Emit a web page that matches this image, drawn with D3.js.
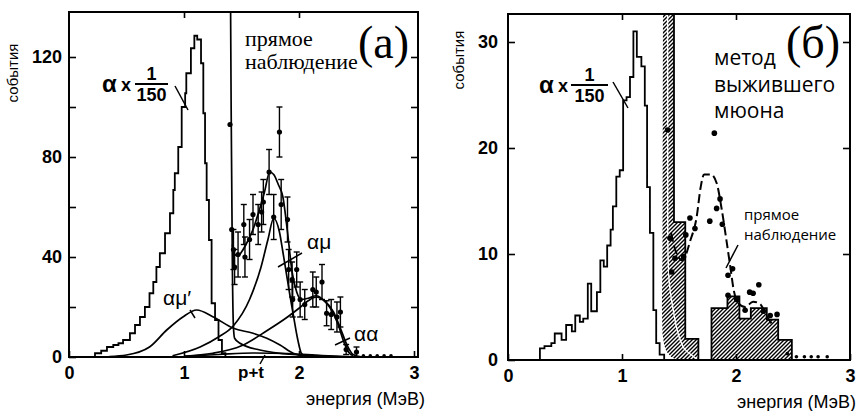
<!DOCTYPE html>
<html>
<head>
<meta charset="utf-8">
<script src="https://cdn.jsdelivr.net/npm/d3@7"></script>
<style>
  body { margin: 0; background: #fff; }
  svg { display: block; }
</style>
</head>
<body>
<svg width="862" height="411"></svg>
<script>
// ---------- panel (а): direct observation ----------
// alpha spectrum (x 1/150), bin edges and counts
const alphaA_edges = [0.226, 0.28, 0.33, 0.385, 0.43, 0.47, 0.53, 0.574, 0.617, 0.66, 0.70, 0.733, 0.76, 0.79, 0.835, 0.878, 0.907, 0.92, 0.95, 0.98, 1.01, 1.02, 1.06, 1.09, 1.115, 1.148, 1.168, 1.183, 1.197, 1.217, 1.24, 1.27, 1.30, 1.33, 1.36];
const alphaA_counts = [1.5, 2.5, 4, 4.8, 5.5, 6.8, 9.5, 12.8, 16, 20, 25.5, 30, 36, 41.5, 49.5, 57.5, 66.8, 73.5, 84, 100, 105.5, 113.5, 123.5, 128.5, 127, 117.5, 97.5, 77.5, 62.8, 46.8, 21.5, 14.8, 6.8, 1.5];

// fitted components
const steepA_x = [1.405, 1.41, 1.415, 1.42, 1.43, 1.44, 1.487, 1.66, 2.0, 2.3];
const steepA_y = [140, 100, 70, 40, 12, 7.5, 5.5, 2.8, 0.8, 0.2];
const amuPrimeA_x = [0.35, 0.5, 0.7, 0.85, 0.99, 1.11, 1.255, 1.43, 1.6, 1.72, 1.835, 1.95, 2.05, 2.2];
const amuPrimeA_y = [0.2, 0.8, 4, 10.8, 16, 18.8, 16, 11.5, 9.5, 7.5, 4.8, 1.5, 0.4, 0];
const amuA_x = [0.9, 1.14, 1.3, 1.43, 1.57, 1.67, 1.73, 1.78, 1.83, 1.86, 1.89, 1.92, 1.95, 1.99, 2.02, 2.06];
const amuA_y = [0.5, 4, 8, 12.5, 23, 36, 47, 55.5, 50, 42, 33.5, 25, 17, 6.8, 1.5, 0];
const aaA_x = [1.0, 1.25, 1.5, 1.72, 1.9, 2.0, 2.08, 2.15, 2.22, 2.3, 2.36, 2.42, 2.47, 2.55];
const aaA_y = [0.3, 1.5, 4.5, 10.5, 16, 19.5, 22.5, 24, 22.5, 18, 11.5, 4.5, 1, 0];
const ptA_x = [1.0, 1.3, 1.6, 1.9, 2.2, 2.5];
const ptA_y = [0.3, 1, 1.6, 1.4, 0.6, 0.1];
const totalA_x = [1.42, 1.44, 1.47, 1.5, 1.55, 1.6, 1.65, 1.7, 1.745, 1.78, 1.82, 1.86, 1.9, 1.94, 1.98, 2.02, 2.08, 2.15, 2.22, 2.28, 2.34, 2.39, 2.43, 2.47];
const totalA_y = [45, 41, 40.5, 42, 46, 51, 58, 66, 74, 73, 69, 64, 50, 34, 26, 23, 23.5, 24.5, 22.5, 19, 13, 6, 2, 0.5];

// measured points with errors
const pointsA_x = [1.40, 1.415, 1.43, 1.44, 1.47, 1.52, 1.53, 1.57, 1.60, 1.645, 1.675, 1.69, 1.74, 1.78, 1.83, 1.845, 1.90, 1.91, 1.94, 1.945, 1.98, 2.01, 2.05, 2.12, 2.15, 2.20, 2.24, 2.28, 2.33, 2.36, 2.41, 2.50, 2.56, 2.62, 2.68, 2.74, 2.80];
const pointsA_y = [93, 51, 43, 36, 41, 53, 40, 47, 57, 53, 58, 62, 74, 56, 90, 61, 55, 35, 31, 23, 35, 23, 21, 27, 26, 30, 17.5, 17, 16, 18, 3, 2, 0.5, 0.5, 0.5, 0.5, 0.5];
const pointsA_err = [0, 0, 8, 7, 9, 8, 8, 8, 8, 8, 8, 9, 9, 9, 10, 10, 9, 8, 7, 7, 7, 7, 6, 7, 6, 7, 5, 6, 6, 6, 2, 2, 0, 0, 0, 0, 0];

// ---------- panel (б): surviving muon method ----------
const alphaB_edges = [0.28, 0.32, 0.38, 0.41, 0.47, 0.51, 0.56, 0.59, 0.63, 0.66, 0.70, 0.73, 0.78, 0.81, 0.84, 0.87, 0.90, 0.92, 0.95, 0.98, 1.01, 1.04, 1.07, 1.10, 1.13, 1.17, 1.20, 1.22, 1.245, 1.275, 1.30, 1.33, 1.37];
const alphaB_counts = [1.1, 1.3, 1.6, 2.5, 1.9, 3.3, 2.7, 4.2, 3.6, 3.9, 7.2, 4.6, 6.4, 9.4, 8.8, 10.8, 12.3, 14.5, 17.3, 17.9, 24.5, 24.8, 26.7, 31, 28.6, 27.7, 24, 16.3, 12, 4.7, 1.6, 0.5];

// hatched histogram (surviving muon) and the left edge of its tall band
const hatchB_edges = [1.456, 1.555, 1.67, 1.785, 1.925, 2.03, 2.13, 2.27, 2.37, 2.49];
const hatchB_counts = [13, 2, 0, 4.9, 6, 3.9, 4.9, 3.8, 1.9];
const bandB_x = [1.36, 1.355, 1.35, 1.355, 1.37, 1.39, 1.43, 1.48];
const bandB_y = [36, 10, 5, 2.5, 1.4, 0.8, 0.3, 0];
const innerB_x = [1.40, 1.401, 1.41, 1.445, 1.535, 1.67];
const innerB_y = [36, 12, 8, 5, 1.25, 0];

// direct observation, dashed
const directB_x = [1.43, 1.47, 1.53, 1.60, 1.655, 1.69, 1.72, 1.78, 1.83, 1.875, 1.92, 1.95, 1.98, 2.02, 2.08, 2.15, 2.21, 2.27, 2.33];
const directB_y = [12, 10.3, 9.4, 11.3, 13.5, 16.3, 17.5, 17.5, 16.7, 14.2, 11, 8.8, 6.6, 5.35, 5.0, 5.5, 5.3, 4.1, 3.2];
const dotsB_x = [1.40, 1.42, 1.436, 1.465, 1.54, 1.56, 1.596, 1.64, 1.77, 1.81, 1.83, 1.86, 1.88, 1.93, 1.93, 1.97, 2.006, 2.08, 2.12, 2.15, 2.20, 2.24, 2.30, 2.36, 2.45, 2.53, 2.60, 2.66, 2.72, 2.80];
const dotsB_y = [21.7, 11.5, 8.3, 9.6, 9.75, 11.8, 13.4, 12.4, 13.1, 21.4, 14.3, 15.2, 12.8, 8.0, 6.1, 8.6, 5.7, 4.7, 6.4, 6.3, 7.1, 4.6, 4.2, 4.3, 0.6, 0.3, 0.3, 0.3, 0.3, 0.3];

const xTickValues = [0, 1, 2, 3];
const yTicksA = [0, 20, 40, 60, 80, 100, 120];
const yTicksB = [0, 10, 20, 30];

// ---------------------------------------------------------
const svg = d3.select("svg");
const defs = svg.append("defs");

defs.append("pattern")
  .attr("id", "hatch")
  .attr("patternUnits", "userSpaceOnUse")
  .attr("width", 4)
  .attr("height", 4)
  .append("path")
  .attr("d", "M-1,1 l2,-2 M0,4 l4,-4 M3,5 l2,-2")
  .attr("stroke", "#000")
  .attr("stroke-width", 1.4);

const SANS = "'Liberation Sans', Arial, sans-serif";
const SERIF = "'Liberation Serif', 'Times New Roman', serif";

const zip = (xs, ys) => xs.map((v, i) => [v, ys[i]]);

function histPoints(edges, counts) {
  const pts = [[edges[0], 0]];
  counts.forEach((c, i) => pts.push([edges[i], c]));
  pts.push([edges[edges.length - 1], 0]);
  return pts;
}

function makePanel(p) {
  const x = d3.scaleLinear([0, p.xMax], [p.left, p.right]);
  const y = d3.scaleLinear([0, p.yMax], [p.bottom, p.top]);
  const g = svg.append("g");

  defs.append("clipPath").attr("id", p.id)
    .append("rect")
    .attr("x", p.left).attr("y", p.top)
    .attr("width", p.right - p.left).attr("height", p.bottom - p.top);

  const plot = g.append("g").attr("clip-path", `url(#${p.id})`);

  // axes with inward ticks
  const styleAxis = (sel) => {
    sel.attr("font-family", SANS).attr("font-size", 18).attr("font-weight", "bold");
    sel.select(".domain").remove();
    sel.selectAll("line").attr("stroke", "#000").attr("stroke-width", 1.6);
    sel.selectAll("text").attr("fill", "#000");
  };

  g.append("g").attr("transform", `translate(${p.left},0)`)
    .call(d3.axisLeft(y).tickValues(p.yTicks).tickSize(-7).tickPadding(p.yPad)
      .tickFormat(d => (d % p.labelStep === 0 ? d : "")))
    .call(styleAxis);
  g.append("g").attr("transform", `translate(${p.right},0)`)
    .call(d3.axisRight(y).tickValues(p.yTicks.slice(1)).tickSize(-7).tickFormat(""))
    .call(styleAxis);
  g.append("g").attr("transform", `translate(0,${p.bottom})`)
    .call(d3.axisBottom(x).tickValues(xTickValues).tickSize(-6).tickPadding(p.xPad)
      .tickFormat(d3.format("d")))
    .call(styleAxis);
  g.append("g").attr("transform", `translate(0,${p.top})`)
    .call(d3.axisTop(x).tickValues([1, 2]).tickSize(-6).tickFormat(""))
    .call(styleAxis);

  g.append("rect")
    .attr("x", p.left).attr("y", p.top)
    .attr("width", p.right - p.left).attr("height", p.bottom - p.top)
    .attr("fill", "none").attr("stroke", "#000").attr("stroke-width", 2);

  return { x, y, g, plot };
}

function text(g, str, x, y, size, opts = {}) {
  return g.append("text")
    .attr("x", x).attr("y", y)
    .attr("text-anchor", opts.anchor || "start")
    .attr("transform", opts.rotate ? `rotate(-90,${x},${y})` : null)
    .style("font-family", opts.family || SANS)
    .style("font-weight", opts.weight || "normal")
    .style("font-size", size + "px")
    .attr("fill", "#000")
    .text(str);
}

function leader(g, x1, y1, x2, y2) {
  g.append("line")
    .attr("x1", x1).attr("y1", y1).attr("x2", x2).attr("y2", y2)
    .attr("stroke", "#000").attr("stroke-width", 1.5);
}

function alphaLabel(g, ax, baseY, fx1, fx2, fy) {
  text(g, "α", ax, baseY, 24, { weight: "bold" });
  text(g, "x", ax + 19, baseY - 1, 18, { weight: "bold" });
  g.append("line").attr("x1", fx1).attr("x2", fx2).attr("y1", fy).attr("y2", fy)
    .attr("stroke", "#000").attr("stroke-width", 1.8);
  text(g, "1", (fx1 + fx2) / 2, fy - 4, 18, { anchor: "middle", weight: "bold" });
  text(g, "150", (fx1 + fx2) / 2, fy + 17, 18, { anchor: "middle", weight: "bold" });
}

// ================= panel (а) =================
const A = makePanel({
  id: "clipA", left: 69, right: 418, top: 12, bottom: 357,
  xMax: 349 / 115, yMax: 138, yTicks: yTicksA, labelStep: 40, yPad: 7, xPad: 9
});

const smooth = (X, Y) => d3.line().x(d => X(d[0])).y(d => Y(d[1])).curve(d3.curveMonotoneX);
const stepLine = (X, Y) => d3.line().x(d => X(d[0])).y(d => Y(d[1])).curve(d3.curveStepAfter);

A.plot.append("path")
  .attr("d", stepLine(A.x, A.y)(histPoints(alphaA_edges, alphaA_counts)))
  .attr("fill", "none").attr("stroke", "#000").attr("stroke-width", 1.8);

[[steepA_x, steepA_y], [amuPrimeA_x, amuPrimeA_y], [amuA_x, amuA_y],
 [aaA_x, aaA_y], [ptA_x, ptA_y], [totalA_x, totalA_y]].forEach(([xs, ys]) => {
  A.plot.append("path")
    .attr("d", smooth(A.x, A.y)(zip(xs, ys)))
    .attr("fill", "none").attr("stroke", "#000").attr("stroke-width", 1.7);
});

const ptsA = pointsA_x.map((v, i) => ({ x: v, y: pointsA_y[i], e: pointsA_err[i] }));
const errG = A.plot.append("g").attr("stroke", "#000").attr("stroke-width", 1.4);
ptsA.filter(d => d.e > 0).forEach(d => {
  const px = A.x(d.x), y1 = A.y(d.y - d.e), y2 = A.y(d.y + d.e);
  errG.append("line").attr("x1", px).attr("x2", px).attr("y1", y1).attr("y2", y2);
  errG.append("line").attr("x1", px - 3).attr("x2", px + 3).attr("y1", y1).attr("y2", y1);
  errG.append("line").attr("x1", px - 3).attr("x2", px + 3).attr("y1", y2).attr("y2", y2);
});
A.plot.append("g").selectAll("circle").data(ptsA).join("circle")
  .attr("cx", d => A.x(d.x)).attr("cy", d => A.y(d.y))
  .attr("r", d => (d.e > 0 || d.y > 5 ? 2.6 : 1.8))
  .attr("fill", "#000");

// labels (а)
text(A.g, "(a)", 409, 58, 46, { anchor: "end", family: SERIF });
text(A.g, "прямое", 245, 46, 22, { family: SERIF });
text(A.g, "наблюдение", 245, 69, 22, { family: SERIF });
alphaLabel(A.g, 102, 92, 135, 168, 84);
leader(A.g, 175, 86, 188, 110);
text(A.g, "αμ′", 163, 305, 21);
leader(A.g, 190, 310, 195, 318);
text(A.g, "αμ", 307, 249, 21);
leader(A.g, 302, 253, 278, 267);
text(A.g, "αα", 354, 341, 21);
leader(A.g, 350, 338, 335, 345);
text(A.g, "p+t", 238, 378, 17, { weight: "bold" });
leader(A.g, 260, 364, 265, 355);
text(A.g, "события", 18, 73, 15, { anchor: "middle", rotate: true });
text(A.g, "энергия (МэВ)", 425, 405, 18, { anchor: "end" });

// ================= panel (б) =================
const B = makePanel({
  id: "clipB", left: 508, right: 850, top: 14, bottom: 360,
  xMax: 3, yMax: 346 / 10.6, yTicks: yTicksB, labelStep: 10, yPad: 10, xPad: 9
});

B.plot.append("path")
  .attr("d", stepLine(B.x, B.y)(histPoints(alphaB_edges, alphaB_counts)))
  .attr("fill", "none").attr("stroke", "#000").attr("stroke-width", 1.8);

// hatched region: step outline on the right, smooth band edge on the left
const topVal = 36;
const outline = [[hatchB_edges[0], topVal]];
hatchB_counts.forEach((c, i) => {
  outline.push([hatchB_edges[i], c]);
  outline.push([hatchB_edges[i + 1], c]);
});
outline.push([hatchB_edges[hatchB_edges.length - 1], 0]);
const band = zip(bandB_x, bandB_y).reverse();
const poly = outline.concat(band);
const lin = d3.line().x(d => B.x(d[0])).y(d => B.y(d[1]));

B.plot.append("path")
  .attr("d", lin(poly) + "Z")
  .attr("fill", "url(#hatch)").attr("stroke", "none");
B.plot.append("path")
  .attr("d", smooth(B.x, B.y).curve(d3.curveMonotoneY)(zip(innerB_x, innerB_y)))
  .attr("fill", "none").attr("stroke", "#fff").attr("stroke-width", 1.4);
B.plot.append("path")
  .attr("d", lin(outline))
  .attr("fill", "none").attr("stroke", "#000").attr("stroke-width", 1.8);

B.plot.append("path")
  .attr("d", smooth(B.x, B.y)(zip(directB_x, directB_y)))
  .attr("fill", "none").attr("stroke", "#000").attr("stroke-width", 2)
  .attr("stroke-dasharray", "9,4");

B.plot.append("g").selectAll("circle").data(zip(dotsB_x, dotsB_y)).join("circle")
  .attr("cx", d => B.x(d[0])).attr("cy", d => B.y(d[1]))
  .attr("r", d => (d[1] > 1 ? 2.8 : 1.8))
  .attr("fill", "#000");

// labels (б)
text(B.g, "(б)", 840, 58, 46, { anchor: "end", family: SERIF });
const OPEN = "'Open Sans', 'Noto Sans', sans-serif";
text(B.g, "метод", 714, 65, 21, { family: OPEN });
text(B.g, "выжившего", 714, 92, 21, { family: OPEN });
text(B.g, "мюона", 714, 118, 21, { family: OPEN });
text(B.g, "прямое", 744, 220, 15, { family: OPEN });
text(B.g, "наблюдение", 744, 240, 15, { family: OPEN });
leader(B.g, 738, 245, 726, 268);
alphaLabel(B.g, 539, 93, 571, 608, 85);
leader(B.g, 613, 82, 628, 108);
text(B.g, "события", 464, 60, 15, { anchor: "middle", rotate: true });
text(B.g, "энергия (МэВ)", 856, 408, 18, { anchor: "end" });
</script>
</body>
</html>
